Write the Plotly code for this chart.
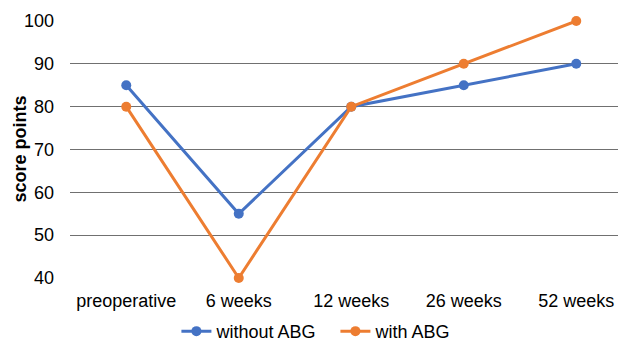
import plotly.graph_objects as go

# Score points at each follow-up time point
timepoints = ["preoperative", "6 weeks", "12 weeks", "26 weeks", "52 weeks"]
without_abg = [85, 55, 80, 85, 90]
with_abg = [80, 40, 80, 90, 100]

BLUE = "#4472C4"
ORANGE = "#ED7D31"
FONT = "Liberation Sans, Arial, sans-serif"

fig = go.Figure()
fig.add_trace(go.Scatter(
    x=list(range(len(timepoints))), y=without_abg, name="without ABG",
    mode="lines+markers", cliponaxis=False,
    line=dict(color=BLUE, width=3),
    marker=dict(color=BLUE, size=10),
))
fig.add_trace(go.Scatter(
    x=list(range(len(timepoints))), y=with_abg, name="with ABG",
    mode="lines+markers", cliponaxis=False,
    line=dict(color=ORANGE, width=3),
    marker=dict(color=ORANGE, size=10),
))

fig.update_layout(
    width=619, height=341,
    margin=dict(l=70, r=1, t=21, b=63, autoexpand=False),
    paper_bgcolor="white", plot_bgcolor="white",
    font=dict(family=FONT, size=18, color="#000000"),
    showlegend=True,
    legend=dict(
        orientation="h", xref="container", yref="container",
        x=0.285, xanchor="left", y=0.028, yanchor="middle",
        font=dict(size=18), traceorder="normal",
        bgcolor="rgba(0,0,0,0)",
        itemwidth=30, entrywidth=114, entrywidthmode="pixels",
    ),
    annotations=[dict(
        text="<b>score points</b>", textangle=-90,
        xref="paper", yref="paper", x=0, y=0.5,
        xanchor="center", yanchor="middle", xshift=-51,
        showarrow=False, font=dict(size=18),
    )],
)
fig.update_xaxes(
    tickmode="array", tickvals=list(range(len(timepoints))), ticktext=timepoints,
    range=[-0.5, 4.371], showgrid=False, zeroline=False,
    showline=False, ticks="", ticklabelstandoff=10,
)
fig.update_yaxes(
    range=[40, 100], dtick=10, tick0=40,
    showgrid=True, gridcolor="#707070", gridwidth=1,
    zeroline=False, showline=False, ticks="", ticklabelstandoff=15,
)

fig.write_html("out.html")
